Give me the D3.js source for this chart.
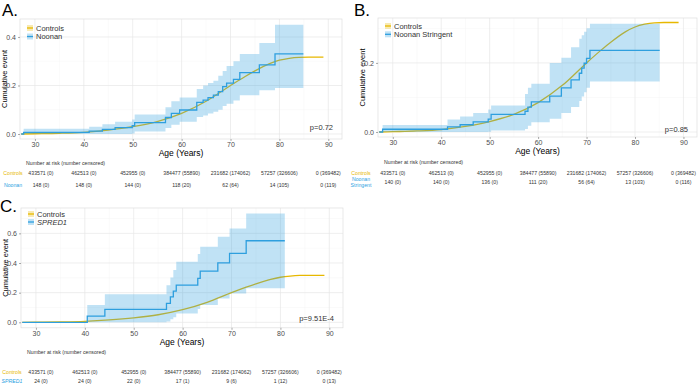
<!DOCTYPE html>
<html>
<head>
<meta charset="utf-8">
<script src="https://cdn.jsdelivr.net/npm/d3@7"></script>
<style>
  body { margin: 0; background: #fff; }
  svg { font-family: "Liberation Sans", Arial, sans-serif; }
</style>
</head>
<body>
<div id="chart"></div>
<script>
// controls (same curve in every panel)
const ctrlAge = [27.2, 30, 35, 40, 45, 50, 55, 60, 65, 70, 73, 75, 78, 80, 82, 84, 86, 89];
const ctrlEst = [0, 0.001, 0.003, 0.007, 0.016, 0.03, 0.051, 0.085, 0.135, 0.2, 0.237, 0.26, 0.29, 0.304, 0.312, 0.316, 0.317, 0.317];

// A. Noonan
const noonanAge = [27.2, 27.7, 41.1, 43.8, 46.4, 49.9, 50.4, 56.7, 57.9, 59.6, 63.1, 64.4, 65.4, 66.5, 67.5, 68.4, 69.2, 70.6, 71.9, 75.9, 79.1, 84.9];
const noonanEst = [0, 0.007, 0.012, 0.019, 0.026, 0.034, 0.047, 0.068, 0.085, 0.099, 0.13, 0.14, 0.15, 0.16, 0.175, 0.195, 0.21, 0.225, 0.253, 0.285, 0.33, 0.33];
const noonanLow = [0, 0, 0, 0, 0, 0.002, 0.01, 0.025, 0.038, 0.05, 0.07, 0.076, 0.084, 0.092, 0.1, 0.115, 0.125, 0.138, 0.16, 0.18, 0.19, 0.19];
const noonanUp  = [0, 0.022, 0.03, 0.04, 0.05, 0.06, 0.08, 0.11, 0.135, 0.15, 0.185, 0.2, 0.21, 0.22, 0.24, 0.26, 0.28, 0.3, 0.33, 0.375, 0.45, 0.45];

// B. Noonan Stringent
const nsAge = [27.2, 27.9, 41.3, 43.9, 46.6, 49.7, 50.3, 57.3, 57.9, 58.6, 62.4, 64.8, 66.8, 68.5, 69.0, 69.5, 70.0, 70.7, 85.1];
const nsEst = [0, 0.008, 0.015, 0.021, 0.029, 0.037, 0.051, 0.06, 0.072, 0.087, 0.104, 0.128, 0.151, 0.17, 0.185, 0.199, 0.213, 0.236, 0.236];
const nsLow = [0, 0, 0, 0, 0, 0.001, 0.004, 0.009, 0.018, 0.028, 0.038, 0.055, 0.072, 0.09, 0.103, 0.115, 0.128, 0.146, 0.146];
const nsUp  = [0, 0.02, 0.036, 0.045, 0.055, 0.065, 0.077, 0.11, 0.128, 0.14, 0.2, 0.215, 0.245, 0.27, 0.28, 0.29, 0.3, 0.313, 0.313];

// C. SPRED1
const spredAge = [27.2, 40.5, 44.1, 56.7, 57.5, 58.1, 58.7, 63.1, 63.6, 67.2, 69.6, 73.0, 80.9];
const spredEst = [0, 0.042, 0.087, 0.128, 0.172, 0.211, 0.251, 0.296, 0.345, 0.401, 0.465, 0.55, 0.55];
const spredLow = [0, 0, 0, 0.005, 0.02, 0.035, 0.06, 0.09, 0.116, 0.16, 0.195, 0.229, 0.229];
const spredUp  = [0, 0.116, 0.189, 0.25, 0.303, 0.352, 0.408, 0.46, 0.509, 0.577, 0.633, 0.734, 0.734];

// risk table
const riskAges = [30, 40, 50, 60, 70, 80, 90];
const ctrlRisk = ["433571 (0)", "462513 (0)", "452955 (0)", "384477 (55890)", "231682 (174062)", "57257 (326606)", "0 (369482)"];
const noonanRisk = ["148 (0)", "148 (0)", "144 (0)", "118 (20)", "62 (64)", "14 (105)", "0 (119)"];
const nsRisk = ["140 (0)", "140 (0)", "136 (0)", "111 (20)", "56 (64)", "13 (103)", "0 (116)"];
const spredRisk = ["24 (0)", "24 (0)", "22 (0)", "17 (1)", "9 (6)", "1 (12)", "0 (13)"];

const xTicks = [30, 40, 50, 60, 70, 80, 90];
const yellow = "#E7B800", blue = "#2E9FDF";

const svg = d3.select("#chart").append("svg")
    .attr("width", 700)
    .attr("height", 386);

function drawPanel(p) {
    const x = d3.scaleLinear().domain([26.95, 92.8]).range([p.left, p.right]);
    const y = d3.scaleLinear().domain(p.yDomain).range([p.bottom, p.top]);
    const g = svg.append("g");

    // panel label
    svg.append("text")
        .attr("x", p.labelX).attr("y", p.labelY)
        .style("font-size", "17px")
        .text(p.label);

    // grid
    const minorX = [35, 45, 55, 65, 75, 85];
    g.selectAll(".vmin").data(minorX).enter().append("line")
        .attr("x1", d => x(d)).attr("x2", d => x(d))
        .attr("y1", p.top).attr("y2", p.bottom)
        .attr("stroke", "#f4f4f4").attr("stroke-width", 0.5);
    g.selectAll(".hmin").data(p.yMinor).enter().append("line")
        .attr("x1", p.left).attr("x2", p.right)
        .attr("y1", d => y(d)).attr("y2", d => y(d))
        .attr("stroke", "#f4f4f4").attr("stroke-width", 0.5);
    g.selectAll(".vmaj").data(xTicks).enter().append("line")
        .attr("x1", d => x(d)).attr("x2", d => x(d))
        .attr("y1", p.top).attr("y2", p.bottom)
        .attr("stroke", "#e6e6e6").attr("stroke-width", 0.7);
    g.selectAll(".hmaj").data(p.yTicks).enter().append("line")
        .attr("x1", p.left).attr("x2", p.right)
        .attr("y1", d => y(d)).attr("y2", d => y(d))
        .attr("stroke", "#e6e6e6").attr("stroke-width", 0.7);
    g.append("rect")
        .attr("x", p.left).attr("y", p.top)
        .attr("width", p.right - p.left).attr("height", p.bottom - p.top)
        .attr("fill", "none").attr("stroke", "#dedede").attr("stroke-width", 0.7);

    // axes
    const xAxis = g.append("g")
        .attr("transform", `translate(0,${p.bottom})`)
        .call(d3.axisBottom(x).tickValues(xTicks).tickSize(2).tickPadding(1));
    const yAxis = g.append("g")
        .attr("transform", `translate(${p.left},0)`)
        .call(d3.axisLeft(y).tickValues(p.yTicks).tickFormat(d3.format(".1f")).tickSize(2).tickPadding(2));
    [xAxis, yAxis].forEach(a => {
        a.select(".domain").remove();
        a.selectAll("line").attr("stroke", "#555").attr("stroke-width", 0.5);
        a.selectAll("text").style("font-size", "7px").attr("fill", "#4d4d4d")
            .style("font-family", "'Liberation Sans', Arial, sans-serif");
    });

    // axis titles
    svg.append("text")
        .attr("x", (p.left + p.right) / 2).attr("y", p.bottom + 17)
        .attr("text-anchor", "middle")
        .style("font-size", "8.5px")
        .text("Age (Years)");
    svg.append("text")
        .attr("transform", `translate(${p.left - 13},${(p.top + p.bottom) / 2}) rotate(-90)`)
        .attr("text-anchor", "middle")
        .style("font-size", "7.5px")
        .text("Cumulative event");

    // curves
    const ctrl = ctrlAge.map((a, i) => ({ a, v: ctrlEst[i] }));
    const grp = p.ages.map((a, i) => ({ a, v: p.est[i], lo: p.low[i], hi: p.up[i] }));

    g.append("path")
        .datum(ctrl)
        .attr("fill", "none").attr("stroke", yellow).attr("stroke-width", 1.3)
        .attr("d", d3.line().x(d => x(d.a)).y(d => y(d.v)).curve(d3.curveMonotoneX));
    g.append("path")
        .datum(grp)
        .attr("fill", "none").attr("stroke", blue).attr("stroke-width", 1.3)
        .attr("d", d3.line().x(d => x(d.a)).y(d => y(d.v)).curve(d3.curveStepAfter));
    g.append("path")
        .datum(grp)
        .attr("fill", blue).attr("fill-opacity", 0.3)
        .attr("d", d3.area().x(d => x(d.a)).y0(d => y(d.lo)).y1(d => y(d.hi)).curve(d3.curveStepAfter));

    // legend
    const leg = g.append("g").attr("transform", `translate(${p.left + 7},${p.top + p.legTop})`);
    const items = [{ name: "Controls", c: yellow, it: false }, { name: p.name, c: blue, it: p.italic }];
    items.forEach((d, i) => {
        const row = leg.append("g").attr("transform", `translate(0,${i * p.legStep})`);
        row.append("rect").attr("x", 0).attr("y", -3).attr("width", 6).attr("height", 6)
            .attr("fill", d.c).attr("fill-opacity", 0.3);
        row.append("line").attr("x1", 0).attr("x2", 6).attr("y1", 0).attr("y2", 0)
            .attr("stroke", d.c).attr("stroke-width", 1.3);
        row.append("text").attr("x", 9).attr("y", 2.6)
            .style("font-size", "7.5px").attr("fill", "#333")
            .style("font-style", d.it ? "italic" : "normal")
            .text(d.name);
    });

    // p value
    g.append("text")
        .attr("x", p.right - 9).attr("y", p.pY)
        .attr("text-anchor", "end")
        .style("font-size", "7.5px").attr("fill", "#333")
        .text(p.pval);

    // risk table
    svg.append("text")
        .attr("x", p.left + 6).attr("y", p.riskTitleY)
        .style("font-size", "5.2px").attr("fill", "#333")
        .text("Number at risk (number censored)");
    const colX = (d, i) => x(d) + (i === 0 ? p.firstNudge : 0);
    svg.selectAll(null).data(riskAges).enter().append("text")
        .attr("x", colX).attr("y", p.ctrlRowY)
        .attr("text-anchor", "middle")
        .style("font-size", "5.2px").attr("fill", "#333")
        .text((d, i) => ctrlRisk[i]);
    svg.selectAll(null).data(riskAges).enter().append("text")
        .attr("x", colX).attr("y", p.grpRowY)
        .attr("text-anchor", "middle")
        .style("font-size", "5.2px").attr("fill", "#333")
        .text((d, i) => p.risk[i]);
    svg.append("text")
        .attr("x", p.rowLabelX).attr("y", p.ctrlRowY)
        .attr("text-anchor", "middle")
        .style("font-size", "5.2px").attr("fill", yellow)
        .text("Controls");
    p.rowLabel.forEach((t, i) => {
        svg.append("text")
            .attr("x", p.rowLabelX).attr("y", p.grpLabelY + i * 6)
            .attr("text-anchor", "middle")
            .style("font-size", "5.2px").attr("fill", blue)
            .style("font-style", p.italic ? "italic" : "normal")
            .text(t);
    });
}

drawPanel({
    label: "A.", labelX: 2, labelY: 16,
    left: 20, right: 342, top: 19, bottom: 139,
    yDomain: [-0.0206, 0.474], yTicks: [0, 0.2, 0.4], yMinor: [0.1, 0.3],
    ages: noonanAge, est: noonanEst, low: noonanLow, up: noonanUp,
    name: "Noonan", italic: false, legTop: 9, legStep: 8.5,
    pval: "p=0.72", pY: 130,
    riskTitleY: 165, ctrlRowY: 175, grpRowY: 187, firstNudge: 6,
    rowLabelX: 13, rowLabel: ["Noonan"], grpLabelY: 187, risk: noonanRisk
});

drawPanel({
    label: "B.", labelX: 354, labelY: 16,
    left: 378, right: 697, top: 18, bottom: 137,
    yDomain: [-0.0145, 0.33], yTicks: [0, 0.2], yMinor: [0.1, 0.3],
    ages: nsAge, est: nsEst, low: nsLow, up: nsUp,
    name: "Noonan Stringent", italic: false, legTop: 8, legStep: 8.3,
    pval: "p=0.85", pY: 132,
    riskTitleY: 164, ctrlRowY: 175, grpRowY: 184, firstNudge: 0,
    rowLabelX: 361, rowLabel: ["Noonan", "Stringent"], grpLabelY: 181, risk: nsRisk
});

drawPanel({
    label: "C.", labelX: 0, labelY: 212,
    left: 21, right: 343, top: 208, bottom: 327.8,
    yDomain: [-0.037, 0.771], yTicks: [0, 0.2, 0.4, 0.6], yMinor: [0.1, 0.3, 0.5, 0.7],
    ages: spredAge, est: spredEst, low: spredLow, up: spredUp,
    name: "SPRED1", italic: true, legTop: 6, legStep: 8,
    pval: "p=9.51E-4", pY: 321,
    riskTitleY: 354, ctrlRowY: 374, grpRowY: 383, firstNudge: 5,
    rowLabelX: 12, rowLabel: ["SPRED1"], grpLabelY: 383, risk: spredRisk
});
</script>
</body>
</html>
